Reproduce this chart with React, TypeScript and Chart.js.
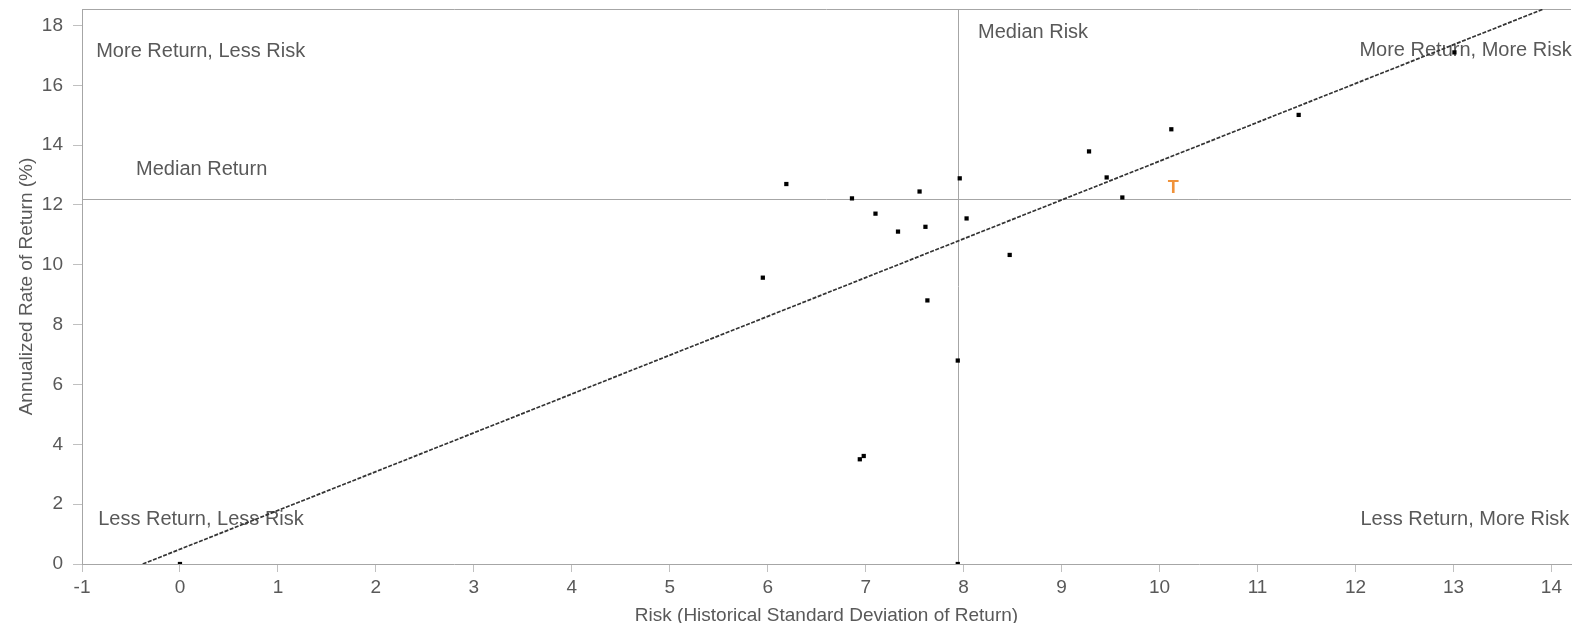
import React, { useEffect, useRef } from "react";
import { Chart, registerables } from "chart.js";

Chart.register(...registerables);

// ---- data ----
const riskValues = [0, 5.95, 6.19, 6.86, 6.94, 6.98, 7.1, 7.33, 7.55, 7.61, 7.63, 7.94, 7.96, 7.94, 8.03, 8.47, 9.28, 9.46, 9.62, 10.12, 11.42, 13.01];
const returnValues = [0, 9.57, 12.7, 12.22, 3.5, 3.61, 11.71, 11.11, 12.45, 11.27, 8.81, 6.8, 12.89, 0, 11.55, 10.33, 13.79, 12.92, 12.25, 14.53, 15.01, 17.1];
const highlightRisk = [10.14];
const highlightReturn = [12.57];
const highlightLabels = ["T"];
const trendRisk = [-0.38, 13.92];
const trendReturn = [0, 18.55];
const medianRisk = 7.94;
const medianReturn = 12.2;
const xTickValues = [-1, 0, 1, 2, 3, 4, 5, 6, 7, 8, 9, 10, 11, 12, 13, 14];
const yTickValues = [0, 2, 4, 6, 8, 10, 12, 14, 16, 18];
const quadrantTexts = [
  "More Return, Less Risk",
  "Median Return",
  "Median Risk",
  "More Return, More Risk",
  "Less Return, Less Risk",
  "Less Return, More Risk",
];
const quadrantRisk = [-0.855, -0.448, 8.147, 12.04, -0.835, 12.05];
const quadrantReturn = [17.12, 13.18, 17.76, 17.16, 1.5, 1.5];

const FONT = "'Liberation Sans', Arial, sans-serif";
const TEXT = "#595959";

const overlayPlugin = {
  id: "overlay",
  beforeDatasetsDraw(chart: any) {
    const { ctx, chartArea, scales } = chart;
    const x = scales.x;
    const y = scales.y;
    ctx.save();
    ctx.strokeStyle = "#a6a6a6";
    ctx.lineWidth = 1;
    // top border
    ctx.beginPath();
    ctx.moveTo(chartArea.left, Math.round(chartArea.top) + 0.5);
    ctx.lineTo(chartArea.right, Math.round(chartArea.top) + 0.5);
    ctx.stroke();
    // median risk
    const mx = Math.round(x.getPixelForValue(medianRisk)) + 0.5;
    ctx.beginPath();
    ctx.moveTo(mx, chartArea.top);
    ctx.lineTo(mx, chartArea.bottom);
    ctx.stroke();
    // median return
    const my = Math.round(y.getPixelForValue(medianReturn)) + 0.5;
    ctx.beginPath();
    ctx.moveTo(chartArea.left, my);
    ctx.lineTo(chartArea.right, my);
    ctx.stroke();
    // quadrant texts
    ctx.fillStyle = TEXT;
    ctx.font = `20px ${FONT}`;
    ctx.textAlign = "left";
    ctx.textBaseline = "middle";
    quadrantTexts.forEach((t, i) => {
      ctx.fillText(t, x.getPixelForValue(quadrantRisk[i]), y.getPixelForValue(quadrantReturn[i]));
    });
    ctx.restore();
  },
  afterDatasetsDraw(chart: any) {
    const { ctx, scales } = chart;
    ctx.save();
    ctx.fillStyle = "#F0923A";
    ctx.font = `bold 18px ${FONT}`;
    ctx.textAlign = "center";
    ctx.textBaseline = "middle";
    highlightLabels.forEach((t, i) => {
      ctx.fillText(t, scales.x.getPixelForValue(highlightRisk[i]), scales.y.getPixelForValue(highlightReturn[i]));
    });
    ctx.restore();
  },
};

export default function App() {
  const ref = useRef<HTMLCanvasElement | null>(null);
  useEffect(() => {
    if (!ref.current) return;
    const chart = new Chart(ref.current, {
      type: "scatter",
      data: {
        datasets: [
          {
            type: "line",
            data: trendRisk.map((v, i) => ({ x: v, y: trendReturn[i] })),
            borderColor: "#333333",
            borderWidth: 1.7,
            borderDash: [4, 1.5],
            pointRadius: 0,
            fill: false,
          } as any,
          {
            data: riskValues.map((v, i) => ({ x: v, y: returnValues[i] })),
            pointStyle: "rect",
            pointRadius: 3,
            pointBorderWidth: 0,
            backgroundColor: "#000",
            borderColor: "#000",
          },
        ],
      },
      options: {
        animation: false,
        responsive: false,
        events: [],
        layout: { padding: { top: 9, left: 0, right: 0, bottom: 0 } },
        plugins: { legend: { display: false }, tooltip: { enabled: false } },
        scales: {
          x: {
            type: "linear",
            min: -1,
            max: 14.2,
            afterBuildTicks: (s: any) => {
              s.ticks = xTickValues.map((v) => ({ value: v }));
            },
            afterFit: (s: any) => {
              s.height = 59;
              s.paddingLeft = 0;
              s.paddingRight = 0;
            },
            grid: { drawOnChartArea: false, drawTicks: true, tickLength: 8, color: "#c0c0c0" },
            border: { color: "#a6a6a6", width: 1 },
            ticks: { font: { family: FONT, size: 19 }, color: TEXT, padding: 4, maxRotation: 0, autoSkip: false },
            title: {
              display: true,
              text: "Risk (Historical Standard Deviation of Return)",
              font: { family: FONT, size: 19, lineHeight: 0.74 },
              color: TEXT,
              padding: 0,
            },
          },
          y: {
            type: "linear",
            min: 0,
            max: 18.55,
            afterBuildTicks: (s: any) => {
              s.ticks = yTickValues.map((v) => ({ value: v }));
            },
            afterFit: (s: any) => {
              s.width = 82;
              s.paddingTop = 0;
              s.paddingBottom = 0;
            },
            grid: { drawOnChartArea: false, drawTicks: true, tickLength: 9, color: "#c0c0c0" },
            border: { color: "#a6a6a6", width: 1 },
            ticks: { font: { family: FONT, size: 19 }, color: TEXT, padding: 10 },
            title: {
              display: true,
              text: "Annualized Rate of Return (%)",
              font: { family: FONT, size: 19, lineHeight: 1.2 },
              color: TEXT,
              padding: { top: 15, bottom: 0 },
            },
          },
        },
      },
      plugins: [overlayPlugin],
    });
    return () => chart.destroy();
  }, []);
  return (
    <div style={{ position: "fixed", left: 0, top: 0, width: 1575, height: 623, background: "#fff" }}>
      <canvas ref={ref} width={1575} height={623} style={{ display: "block" }} />
    </div>
  );
}
